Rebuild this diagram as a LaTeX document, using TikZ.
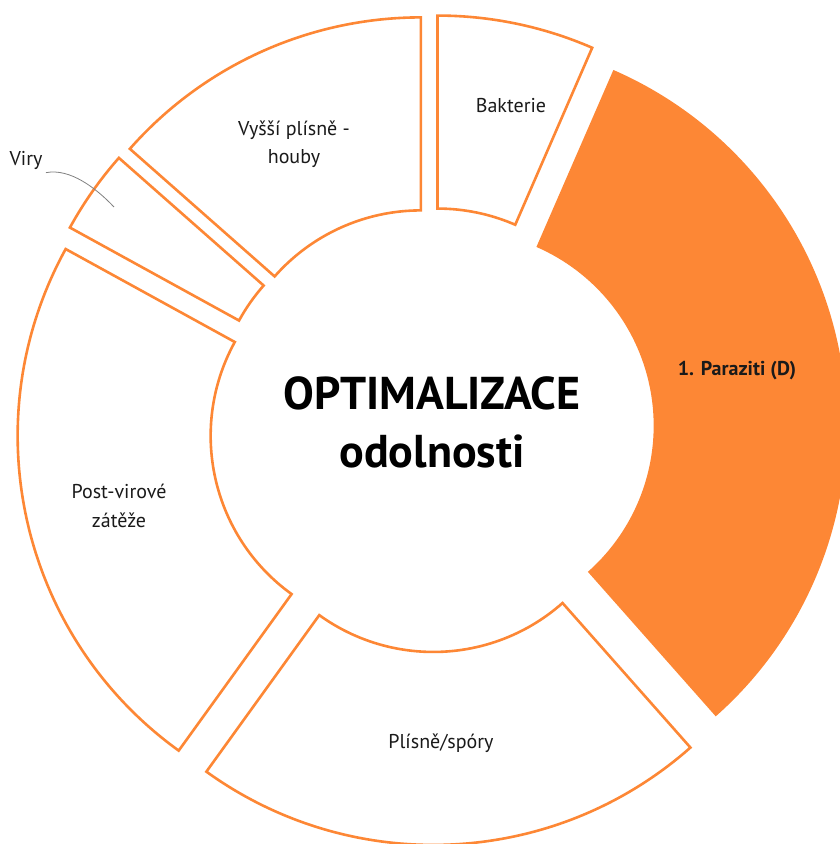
\documentclass[tikz,border=0pt]{standalone}
\usepackage{fontspec}
\setmainfont{PT Sans}
\usetikzlibrary{positioning}
\definecolor{oranz}{HTML}{FD8735}
\definecolor{popis}{HTML}{1A1A1A}

\tikzset{
  dil/.style={draw=oranz, line width=2.6pt, fill=white, line join=miter},
  dilplny/.style={fill=oranz, draw=none},
  stitek/.style={text=popis, font=\fontsize{20}{28.5}\selectfont, align=center},
  stitektucny/.style={text=popis, font=\bfseries\fontsize{20}{28.5}\selectfont, align=center},
  nadpis/.style={text=black, font=\bfseries\fontsize{46}{58}\selectfont, align=center},
}

\begin{document}
\begin{tikzpicture}[x=1pt,y=1pt]
\useasboundingbox (-432,-414) rectangle (407,430);
% donut segments, each pushed out from the centre
\foreach \a/\b/\styl in {90/66.5/dil, 66.5/-48.5/dilplny, -48.5/-125.8/dil,
    -125.8/-208.8/dil, -208.8/-221.4/dil, -221.4/-270/dil} {
  \pgfmathsetmacro\m{(\a+\b)/2}
  \path[\styl, shift={(\m:27)}] (\a:195) -- (\a:388)
    arc[start angle=\a, end angle=\b, radius=388] -- (\b:195)
    arc[start angle=\b, end angle=\a, radius=195] -- cycle;
}

\node[nadpis] (stred) at (0,8) {OPTIMALIZACE\\odolnosti};
\node[stitek] (bakterie) at (79,324) {Bakterie};
\node[stitektucny] (paraziti) at (305,59) {1. Paraziti (D)};
\node[stitek] (plisne) at (9,-313) {Plísně/spóry};
\node[stitek] (postvir) at (-313,-76) {Post-virové\\zátěže};
\node[stitek] (vyssi) at (-138,286) {Vyšší plísně -\\houby};
\node[stitek] (viry) at (-406,270) {Viry};
\coordinate (viryin) at (-318,223);
\draw[gray, line width=0.8pt] (viry.south east) .. controls (-362,262) and (-336,242) .. (viryin);
\end{tikzpicture}
\end{document}
